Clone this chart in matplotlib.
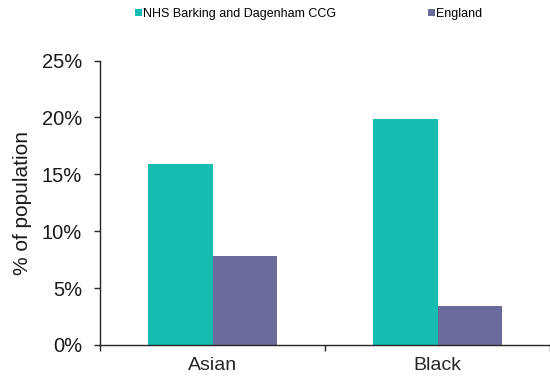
import matplotlib
matplotlib.use("Agg")
import matplotlib.pyplot as plt
import numpy as np
from matplotlib.patches import Patch
from matplotlib.ticker import FixedLocator, PercentFormatter

plt.rcParams['font.family'] = ['Liberation Sans', 'DejaVu Sans']

categories = ["Asian", "Black"]
series_names = ["NHS Barking and Dagenham CCG", "England"]
ccg_values = [15.9, 19.9]
england_values = [7.8, 3.4]
y_ticks = [0, 5, 10, 15, 20, 25]

teal = "#17BCB1"
purple = "#6C6C9C"
axis_col = "#262626"

fig = plt.figure(figsize=(5.5, 3.77), dpi=100)
ax = fig.add_axes([100 / 550, 32 / 377, 450 / 550, 284.5 / 377])

x = np.arange(len(categories))
w = 0.285
ax.bar(x - w / 2, ccg_values, width=w, color=teal, label=series_names[0])
ax.bar(x + w / 2, england_values, width=w, color=purple, label=series_names[1])

ax.set_xlim(-0.5, len(categories) - 0.5)
ax.set_ylim(0, 25)
ax.yaxis.set_major_locator(FixedLocator(y_ticks))
ax.yaxis.set_major_formatter(PercentFormatter(decimals=0))

ax.set_xticks(x)
ax.set_xticklabels(categories, fontsize=14)
ax.xaxis.set_minor_locator(FixedLocator(np.arange(-0.5, len(categories), 1.0)))
ax.tick_params(axis='x', which='major', length=0, pad=9, colors=axis_col)
ax.tick_params(axis='x', which='minor', length=4, width=1, color=axis_col)
ax.tick_params(axis='y', which='major', length=4, width=1, pad=9,
               labelsize=14.5, color=axis_col, labelcolor='#1a1a1a')

for side in ("top", "right"):
    ax.spines[side].set_visible(False)
for side in ("left", "bottom"):
    ax.spines[side].set_color(axis_col)
    ax.spines[side].set_linewidth(1)

ax.set_ylabel("% of population", fontsize=15, color='#1a1a1a', labelpad=7)

handles = [Patch(facecolor=teal, edgecolor='none'),
           Patch(facecolor=purple, edgecolor='none')]
fig.legend(handles, series_names, loc='center left',
           bbox_to_anchor=(135 / 550, 1 - 14 / 377), ncol=2, frameon=False,
           fontsize=9, handlelength=0.56, handleheight=0.56,
           handletextpad=0.1, columnspacing=7.3, borderaxespad=0,
           borderpad=0)

fig.savefig("out.png", dpi=100)
